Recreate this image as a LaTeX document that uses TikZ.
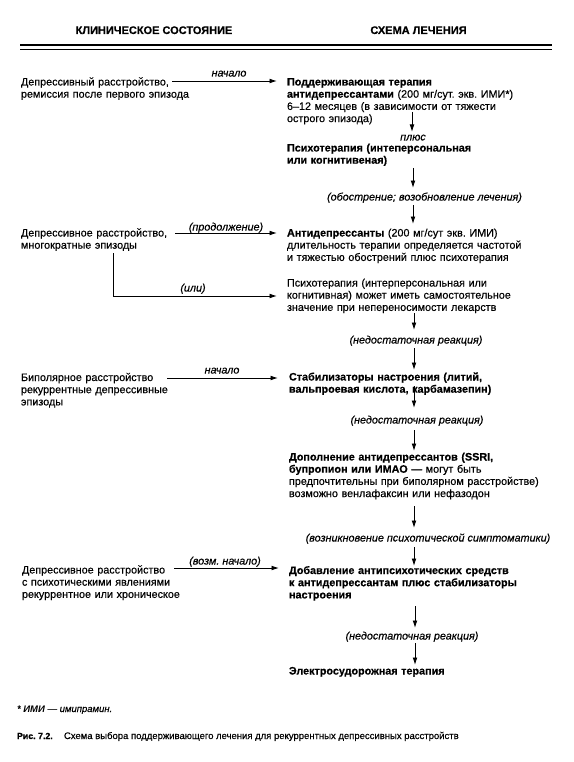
\documentclass[tikz,border=0pt]{standalone}
\usepackage{fontspec}
\setmainfont{Liberation Sans}[UprightFeatures={FakeBold=0.35}, ItalicFeatures={FakeBold=0.35}, BoldFeatures={FakeBold=0.5}]
\usetikzlibrary{arrows.meta}
\begin{document}
\frenchspacing
\begin{tikzpicture}[x=1pt,y=-1pt,
  every node/.style={inner sep=0pt, outer sep=0pt},
  body/.style={anchor=base west, align=left, text width=#1, font=\fontsize{10.8}{12.2}\selectfont},
  body/.default=280pt,
  lbl/.style={anchor=base, font=\fontsize{10.8}{12}\selectfont\itshape},
  head/.style={anchor=base, font=\fontsize{11}{12}\selectfont\bfseries},
  arr/.style={-{Latex[length=7.5pt,width=4.8pt]}, line width=0.9pt},
  rule/.style={line width=1pt}
]
\useasboundingbox (0,0) rectangle (573,762);
\fill[white] (0,0) rectangle (573,762);

% header
\node[head] (h1) at (154,34) {КЛИНИЧЕСКОЕ СОСТОЯНИЕ};
\node[head] (h2) at (418.5,34) {СХЕМА ЛЕЧЕНИЯ};
\coordinate (r1a) at (20,45); \coordinate (r1b) at (552,45);
\coordinate (r2a) at (20,50); \coordinate (r2b) at (552,50);
\draw[rule, line width=1.3pt] (r1a) -- (r1b);
\draw[rule] (r2a) -- (r2b);

% left column
\node[body=180pt] (L1) at (21,85.5) {Депрессивный расстройство,\\ремиссия после первого эпизода};
\node[body=180pt] (L2) at (21,236.5) {Депрессивное расстройство,\\многократные эпизоды};
\node[body=180pt] (L3) at (21,381) {Биполярное расстройство\\рекуррентные депрессивные\\эпизоды};
\node[body=180pt] (L4) at (22,573.5) {Депрессивное расстройство\\с психотическими явлениями\\рекуррентное или хроническое};

% right column
\node[body] (R1) at (287,85.5) {\textbf{Поддерживающая терапия}\\\textbf{антидепрессантами} (200 мг/сут. экв. ИМИ*)\\6–12 месяцев (в зависимости от тяжести\\острого эпизода)};
\node[lbl] (plus) at (413,140.5) {плюс};
\node[body] (R2) at (287,151.5) {\textbf{Психотерапия (интеперсональная}\\\textbf{или когнитивеная)}};
\node[lbl] (obo) at (424.5,200.5) {(обострение; возобновление лечения)};
\node[body] (R3) at (287,236.5) {\textbf{Антидепрессанты} (200 мг/сут экв. ИМИ)\\длительность терапии определяется частотой\\и тяжестью обострений плюс психотерапия};
\node[body] (R4) at (287,286.5) {Психотерапия (интерперсональная или\\когнитивная) может иметь самостоятельное\\значение при непереносимости лекарств};
\node[lbl] (ned1) at (416,343.5) {(недостаточная реакция)};
\node[body] (R5) at (289,380.5) {\textbf{Стабилизаторы настроения (литий,}\\\textbf{вальпроевая кислота, карбамазепин)}};
\node[lbl] (ned2) at (417,423.5) {(недостаточная реакция)};
\node[body] (R6) at (289,460.5) {\textbf{Дополнение антидепрессантов (SSRI,}\\\textbf{бупропион или ИМАО —} могут быть\\предпочтительны при биполярном расстройстве)\\возможно венлафаксин или нефазодон};
\node[lbl] (voz) at (428,541.5) {(возникновение психотической симптоматики)};
\node[body] (R7) at (289,574) {\textbf{Добавление антипсихотических средств}\\\textbf{к антидепрессантам плюс стабилизаторы}\\\textbf{настроения}};
\node[lbl] (ned3) at (412,639.5) {(недостаточная реакция)};
\node[body] (R8) at (289,674.5) {\textbf{Электросудорожная терапия}};

% horizontal connectors with labels
\node[lbl] (n1) at (229,76.5) {начало};
\coordinate (s1) at (172,81);
\draw[arr, shorten >=10pt] (s1) -- (s1 -| R1.west);

\node[lbl] (n2) at (226,230.5) {(продолжение)};
\coordinate (s2) at (175,233);
\draw[arr, shorten >=10pt] (s2) -- (s2 -| R3.west);

\node[lbl] (n3) at (193,291.5) {(или)};
\coordinate (s3) at (113,253);
\coordinate (c3) at (113,296);
\draw[arr, shorten >=10pt] (s3) -- (c3) -- (c3 -| R4.west);

\node[lbl] (n4) at (222,373.5) {начало};
\coordinate (s4) at (167,378);
\draw[arr, shorten >=11pt] (s4) -- (s4 -| R5.west);

\node[lbl] (n5) at (225,564.5) {(возм. начало)};
\coordinate (s5) at (174,568);
\draw[arr, shorten >=10pt] (s5) -- (s5 -| R7.west);

% vertical connectors
\coordinate (v1a) at (412,112); \coordinate (v1b) at (412,132);
\draw[arr] (v1a) -- (v1b);
\coordinate (v2a) at (413,168); \coordinate (v2b) at (413,188);
\draw[arr] (v2a) -- (v2b);
\coordinate (v3a) at (413,205); \coordinate (v3b) at (413,224);
\draw[arr] (v3a) -- (v3b);
\coordinate (v4a) at (414,313); \coordinate (v4b) at (414,330);
\draw[arr] (v4a) -- (v4b);
\coordinate (v5a) at (414,348); \coordinate (v5b) at (414,370);
\draw[arr] (v5a) -- (v5b);
\coordinate (v6a) at (414,386); \coordinate (v6b) at (414,408);
\draw[arr] (v6a) -- (v6b);
\coordinate (v7a) at (414,430); \coordinate (v7b) at (414,451);
\draw[arr] (v7a) -- (v7b);
\coordinate (v8a) at (414,506); \coordinate (v8b) at (414,528);
\draw[arr] (v8a) -- (v8b);
\coordinate (v9a) at (414,547); \coordinate (v9b) at (414,566);
\draw[arr] (v9a) -- (v9b);
\coordinate (v10a) at (415,606); \coordinate (v10b) at (415,628);
\draw[arr] (v10a) -- (v10b);
\coordinate (v11a) at (415,643); \coordinate (v11b) at (415,665);
\draw[arr] (v11a) -- (v11b);

% footnote and caption
\node[anchor=base west, font=\fontsize{9.5}{10}\selectfont\itshape] (fn) at (17,712) {* \textbf{ИМИ} — имипрамин.};
\node[anchor=base west, font=\fontsize{8.8}{10}\selectfont\bfseries] (capn) at (17,739) {Рис. 7.2.};
\node[anchor=base west, font=\fontsize{9.5}{10}\selectfont] (capt) at (64,739) {Схема выбора поддерживающего лечения для рекуррентных депрессивных расстройств};
\end{tikzpicture}
\end{document}
